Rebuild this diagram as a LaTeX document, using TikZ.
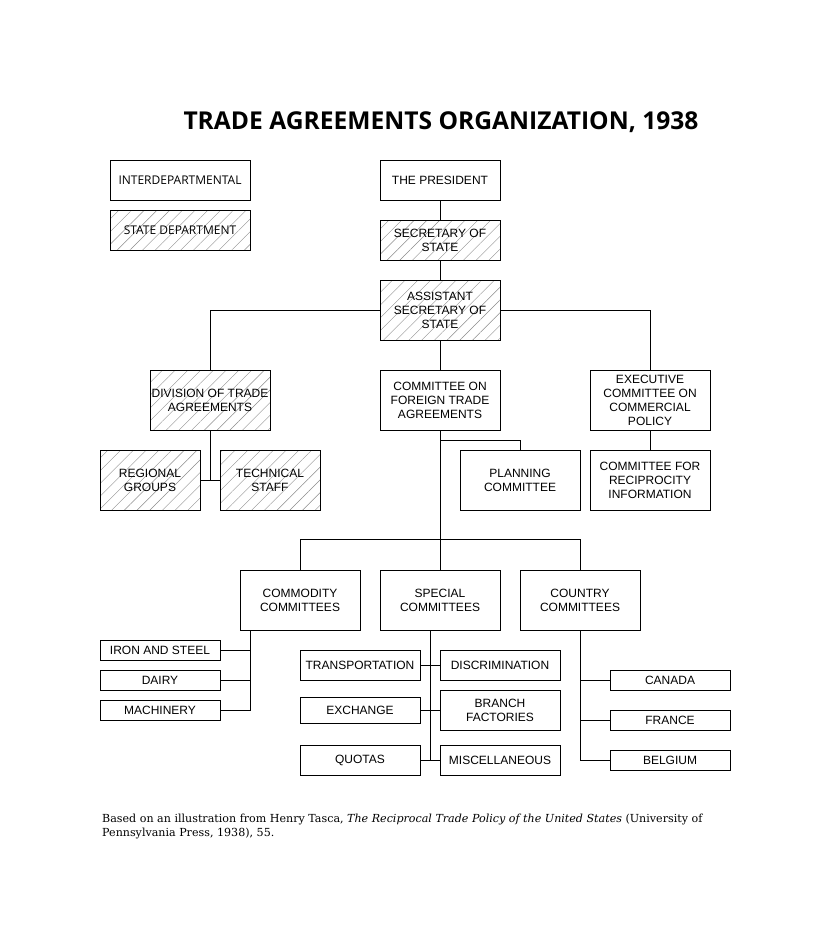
\documentclass[tikz,border=0pt]{standalone}
\usepackage{fontspec}
\setmainfont{Liberation Sans}
\newfontfamily\titlefont{Open Sans}
\newfontfamily\legendfont{Open Sans}
\newfontfamily\capfont{DejaVu Serif}
\usetikzlibrary{patterns.meta,calc}
\begin{document}
\begin{tikzpicture}[x=1pt,y=-1pt,
  box/.style={draw, line width=0.8pt, align=center, inner sep=0pt,
    font=\fontsize{12}{14}\selectfont, minimum width=120pt},
  hatch/.style={pattern={Lines[angle=45,distance=9pt,line width=0.4pt]}, pattern color=black!45},
  conn/.style={line width=0.8pt}]
\useasboundingbox (0,0) rectangle (831,940);
\fill[white] (0,0) rectangle (831,940);
% title
\node[font=\titlefont\fontsize{24.6}{28}\selectfont\bfseries] (title) at (441,122.5) {TRADE AGREEMENTS ORGANIZATION, 1938};
% legend
\node[box, minimum width=140pt, minimum height=40pt, font=\legendfont\fontsize{12}{14}\selectfont] (legint) at (180,180) {INTERDEPARTMENTAL};
\node[box, hatch, minimum width=140pt, minimum height=40pt, font=\legendfont\fontsize{12}{14}\selectfont] (legstate) at (180,230) {STATE DEPARTMENT};
% hierarchy
\node[box, minimum height=40pt] (pres) at (440,180.5) {THE PRESIDENT};
\node[box, hatch, minimum height=40pt] (sec) at (440,240) {SECRETARY OF\\STATE};
\node[box, hatch, minimum height=60pt] (asst) at (440,310) {ASSISTANT\\SECRETARY OF\\STATE};
\node[box, hatch, minimum height=60pt] (div) at (210,400) {DIVISION OF TRADE\\AGREEMENTS};
\node[box, minimum height=60pt] (cfta) at (440,400) {COMMITTEE ON\\FOREIGN TRADE\\AGREEMENTS};
\node[box, minimum height=60pt] (exec) at (650,400) {EXECUTIVE\\COMMITTEE ON\\COMMERCIAL\\POLICY};
\node[box, hatch, minimum width=100pt, minimum height=60pt] (reg) at (150,480) {REGIONAL\\GROUPS};
\node[box, hatch, minimum width=100pt, minimum height=60pt] (tech) at (270,480) {TECHNICAL\\STAFF};
\node[box, minimum height=60pt] (plan) at (520,480) {PLANNING\\COMMITTEE};
\node[box, minimum height=60pt] (cri) at (650,480) {COMMITTEE FOR\\RECIPROCITY\\INFORMATION};
\node[box, minimum height=60pt] (comm) at (300,600) {COMMODITY\\COMMITTEES};
\node[box, minimum height=60pt] (spec) at (440,600) {SPECIAL\\COMMITTEES};
\node[box, minimum height=60pt] (country) at (580,600) {COUNTRY\\COMMITTEES};
% commodity subs
\node[box, minimum height=20pt] (iron) at (160,650) {IRON AND STEEL};
\node[box, minimum height=20pt] (dairy) at (160,680) {DAIRY};
\node[box, minimum height=20pt] (mach) at (160,710) {MACHINERY};
% special subs
\node[box, minimum height=30pt] (transp) at (360,665) {TRANSPORTATION};
\node[box, minimum height=26pt] (exch) at (360,710) {EXCHANGE};
\node[box, minimum height=30pt] (quot) at (360,760) {QUOTAS};
\node[box, minimum height=30pt] (disc) at (500,665) {DISCRIMINATION};
\node[box, minimum height=40pt] (branch) at (500,710) {BRANCH\\FACTORIES};
\node[box, minimum height=30pt] (misc) at (500,760) {MISCELLANEOUS};
% country subs
\node[box, minimum height=20pt] (can) at (670,680) {CANADA};
\node[box, minimum height=20pt] (fra) at (670,720) {FRANCE};
\node[box, minimum height=20pt] (bel) at (670,760) {BELGIUM};
% connectors
\draw[conn] (pres.south) -- (sec.north);
\draw[conn] (sec.south) -- (asst.north);
\draw[conn] (asst.west) -| (div.north);
\draw[conn] (asst.east) -| (exec.north);
\draw[conn] (asst.south) -- (cfta.north);
\draw[conn] (exec.south) -- (cri.north);
\draw[conn] (reg.east) -- (tech.west);
\draw[conn] (div.south) -- (div.south |- reg.east);
\draw[conn] (cfta.south) -- (spec.north);
\draw[conn] (cfta.south) ++(0,10) -| (plan.north);
\draw[conn] (comm.north) -- ++(0,-30) -| (country.north);
\draw[conn] (mach.east) -- ++(30,0) coordinate (cv) -- (cv |- comm.south);
\draw[conn] (iron.east) -- (iron.east -| cv);
\draw[conn] (dairy.east) -- (dairy.east -| cv);
\coordinate (sv) at ($(quot.east)!0.5!(misc.west)$);
\draw[conn] (sv) -- (sv |- spec.south);
\draw[conn] (quot.east) -- (misc.west);
\draw[conn] (transp.east) -- (disc.west);
\draw[conn] (exch.east) -- (branch.west);
\draw[conn] (country.south) |- (bel.west);
\draw[conn] (can.west) -- (can.west -| country.south);
\draw[conn] (fra.west) -- (fra.west -| country.south);
% caption
\node[anchor=north west, align=left, inner sep=0pt, font=\capfont\fontsize{11.1}{14}\selectfont] (cap) at (102,813.5)
  {Based on an illustration from Henry Tasca, \textit{The Reciprocal Trade Policy of the United States} (University of\\Pennsylvania Press, 1938), 55.};
\end{tikzpicture}
\end{document}
